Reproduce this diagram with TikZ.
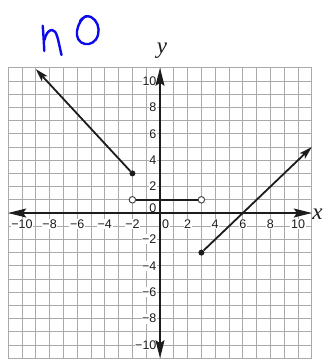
\documentclass[tikz,border=0pt]{standalone}
\usepackage{fontspec}
\setmainfont{Liberation Serif}
\newfontfamily\lbsans{Liberation Sans}
\usetikzlibrary{arrows.meta}
\definecolor{handblue}{RGB}{10,10,235}
\definecolor{gridgray}{RGB}{170,170,170}
\definecolor{ink}{RGB}{28,28,28}
\begin{document}
\begin{tikzpicture}[x=1pt,y=-1pt,
  hand/.style={handblue,line width=2.4pt,line cap=round,line join=round},
  gridline/.style={gridgray,line width=0.9pt},
  axisline/.style={ink,line width=1.3pt,{Stealth[length=18pt,width=9pt,inset=3pt]}-{Stealth[length=18pt,width=9pt,inset=3pt]}},
  ray/.style={ink,line width=1.8pt,-{Stealth[length=13pt,width=7.5pt,inset=3pt]}},
  seg/.style={ink,line width=1.5pt},
  closeddot/.style={circle,fill=ink,inner sep=0pt,minimum size=6pt},
  opendot/.style={circle,draw=ink!80,fill=white,line width=1pt,inner sep=0pt,minimum size=6.5pt},
  ticklbl/.style={font=\lbsans\fontsize{12.5}{13}\selectfont,fill=white,inner sep=0.6pt,text=ink},
  axislbl/.style={font=\itshape\fontsize{23}{23}\selectfont,text=ink,anchor=base,inner sep=0pt}]

\useasboundingbox (0,0) rectangle (324,359);

% handwriting "n O"
\draw[hand] (42.7,25.7) .. controls (43.5,35) and (44,45) .. (44.3,51);
\draw[hand] (44.5,40) .. controls (46,33) and (49,30) .. (52,30) .. controls (57,30) and (58,40) .. (61.5,55);
\draw[hand] (80,21) .. controls (83,17) and (87,15) .. (91,17) .. controls (97,20) and (100,28) .. (98,35) .. controls (96,42) and (90,45) .. (85,44) .. controls (79,43) and (76,37) .. (77,31) .. controls (78,24) and (82,18) .. (86,16);

\begin{scope}[shift={(160,213)},x=13.8pt,y=13.2pt]
  \draw[gridline] (-11,-11) grid[step=1] (11,11);

  % tick labels
  \foreach \v/\t in {-10/−10,-8/−8,-6/−6,-4/−4,-2/−2,2/2,4/4,6/6,8/8,10/10}{
    \node[ticklbl] (xt\v) at (\v,-0.83) {\t};
    \node[ticklbl,anchor=east] (yt\v) at (-0.2,\v) {\t};
  }
  \node[ticklbl] (xt0) at (0.4,-0.83) {0};
  \node[ticklbl,anchor=east] (yt0) at (-0.2,0.38) {0};

  % axes
  \coordinate (xl) at (-11,0);
  \coordinate (xr) at (11,0);
  \coordinate (yb) at (0,-11);
  \coordinate (ytop) at (0,11);
  \draw[axisline] (xl) -- (xr);
  \draw[axisline] (yb) -- (ytop);
  \node[axislbl] (xlab) at (11.41,-0.53) {x};
  \node[axislbl] (ylab) at (0.15,12.12) {y};

  % graph pieces
  \node[closeddot] (p1) at (-2,3) {};
  \node[opendot] (o1) at (-2,1) {};
  \node[opendot] (o2) at (3,1) {};
  \node[closeddot] (p2) at (3,-3) {};
  \coordinate (tl) at (-9,10.9);
  \coordinate (tr) at (11,5);
  \draw[ray] (p1) -- (tl);
  \draw[seg] (o1) -- (o2);
  \draw[ray] (p2) -- (tr);
\end{scope}
\end{tikzpicture}
\end{document}
